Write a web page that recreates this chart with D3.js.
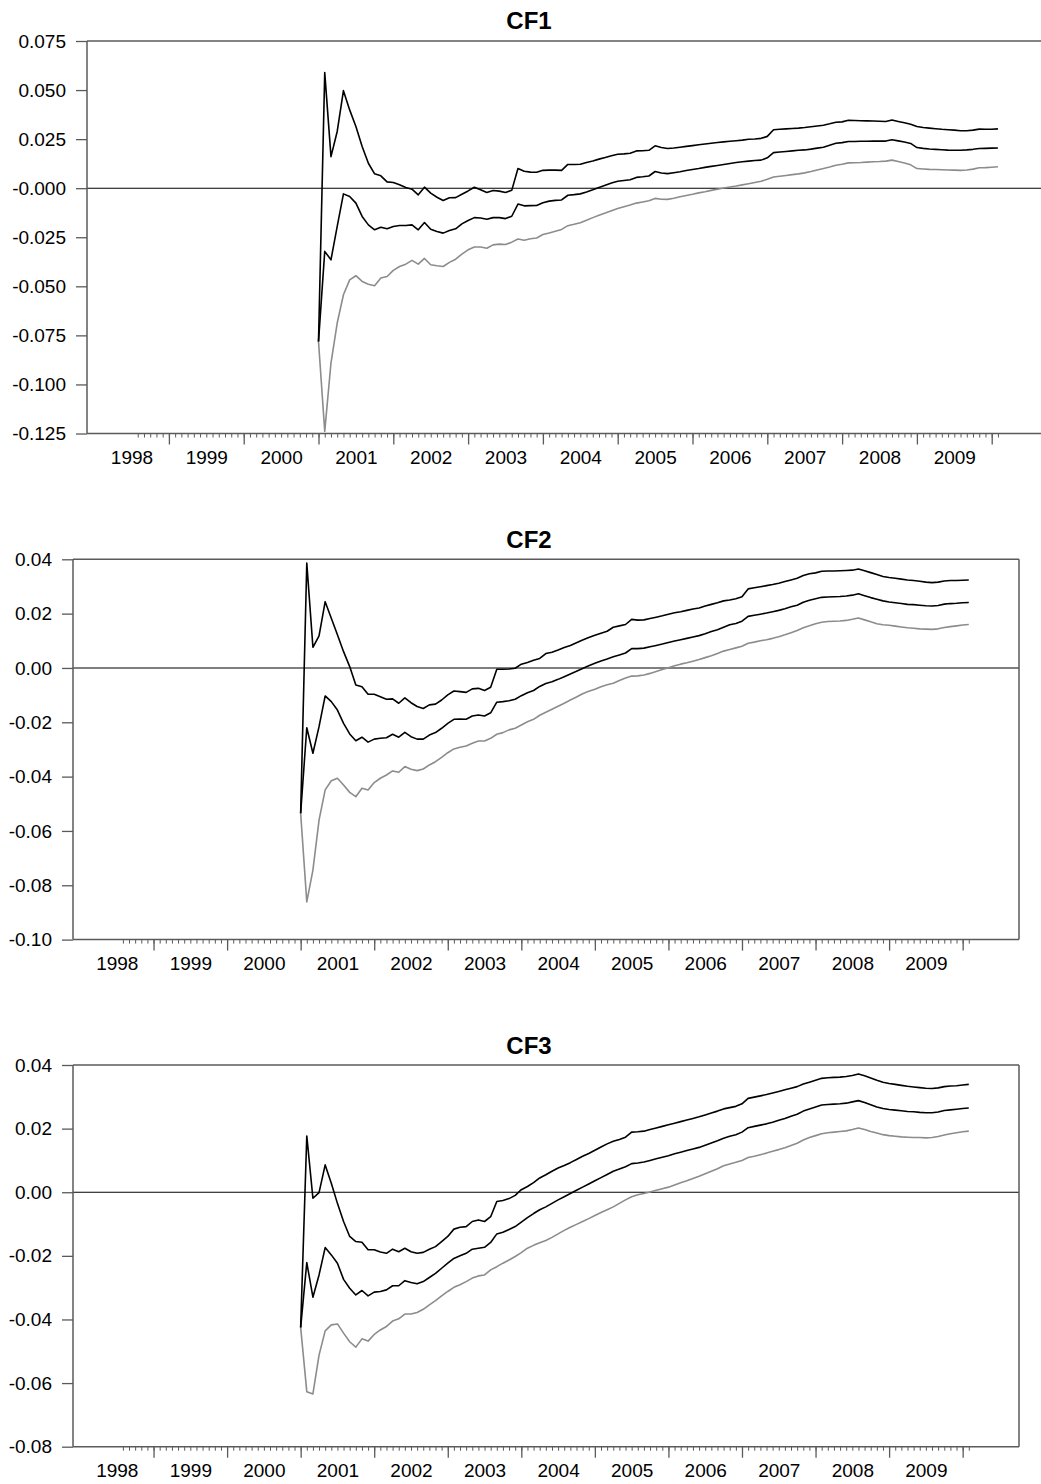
<!DOCTYPE html>
<html><head><meta charset="utf-8">
<script src="https://cdn.jsdelivr.net/npm/d3@7/dist/d3.min.js"></script>
<style>
body{margin:0;background:#fff}
svg{display:block}
text{font-family:"Liberation Sans",Arial,Helvetica,sans-serif;fill:#000}
</style>
</head><body>
<svg id="chart" width="1041" height="1484"></svg>
<script>
// Monthly observations starting 2001M01
const startYear = 2001;

const cf1Upper = [-0.0781,0.0589,0.0161,0.0289,0.0497,0.0399,0.0314,0.0212,0.0127,0.0073,
0.0063,0.0032,0.0029,0.0017,0.0003,-0.0005,-0.0034,0.0005,-0.0025,-0.0046,
-0.0063,-0.0049,-0.0048,-0.0031,-0.0014,0.0005,-0.0008,-0.0022,-0.0012,-0.0015,
-0.0022,-0.0011,0.0100,0.0086,0.0082,0.0081,0.0091,0.0092,0.0092,0.0091,
0.0121,0.0121,0.0122,0.0131,0.0139,0.0148,0.0156,0.0165,0.0173,0.0175,
0.0178,0.0190,0.0191,0.0193,0.0216,0.0207,0.0202,0.0205,0.0209,0.0213,
0.0217,0.0221,0.0225,0.0229,0.0233,0.0236,0.0239,0.0242,0.0245,0.0249,
0.0251,0.0254,0.0264,0.0298,0.0300,0.0302,0.0304,0.0306,0.0309,0.0313,
0.0317,0.0321,0.0328,0.0336,0.0338,0.0346,0.0345,0.0344,0.0343,0.0342,
0.0341,0.0340,0.0347,0.0340,0.0333,0.0326,0.0314,0.0309,0.0306,0.0303,
0.0300,0.0298,0.0296,0.0293,0.0293,0.0296,0.0301,0.0300,0.0300,0.0302];

const cf1Mid = [-0.0781,-0.0322,-0.0365,-0.0195,-0.0029,-0.0042,-0.0076,-0.0144,-0.0187,-0.0212,
-0.0199,-0.0207,-0.0195,-0.0190,-0.0190,-0.0187,-0.0212,-0.0175,-0.0209,-0.0221,
-0.0229,-0.0216,-0.0207,-0.0182,-0.0165,-0.0150,-0.0152,-0.0158,-0.0150,-0.0150,
-0.0155,-0.0143,-0.0081,-0.0090,-0.0089,-0.0088,-0.0074,-0.0066,-0.0062,-0.0060,
-0.0036,-0.0033,-0.0029,-0.0019,-0.0008,0.0004,0.0015,0.0026,0.0035,0.0039,
0.0043,0.0055,0.0058,0.0062,0.0085,0.0077,0.0074,0.0079,0.0084,0.0090,
0.0095,0.0100,0.0106,0.0111,0.0116,0.0121,0.0126,0.0131,0.0135,0.0138,
0.0141,0.0143,0.0155,0.0181,0.0184,0.0187,0.0190,0.0193,0.0195,0.0199,
0.0204,0.0209,0.0219,0.0229,0.0232,0.0238,0.0238,0.0239,0.0239,0.0240,
0.0240,0.0240,0.0247,0.0241,0.0235,0.0228,0.0207,0.0203,0.0200,0.0198,
0.0196,0.0194,0.0193,0.0193,0.0195,0.0198,0.0202,0.0203,0.0204,0.0205];

const cf1Lower = [-0.0781,-0.1239,-0.0891,-0.0687,-0.0543,-0.0467,-0.0446,-0.0475,-0.0489,-0.0497,
-0.0458,-0.0450,-0.0419,-0.0399,-0.0387,-0.0368,-0.0387,-0.0358,-0.0390,-0.0395,
-0.0399,-0.0378,-0.0362,-0.0336,-0.0314,-0.0300,-0.0300,-0.0306,-0.0289,-0.0285,
-0.0287,-0.0275,-0.0259,-0.0265,-0.0258,-0.0254,-0.0236,-0.0228,-0.0219,-0.0210,
-0.0191,-0.0184,-0.0176,-0.0163,-0.0150,-0.0138,-0.0127,-0.0115,-0.0104,-0.0095,
-0.0086,-0.0076,-0.0070,-0.0064,-0.0052,-0.0056,-0.0057,-0.0051,-0.0044,-0.0037,
-0.0031,-0.0024,-0.0018,-0.0011,-0.0005,0.0001,0.0006,0.0011,0.0017,0.0023,
0.0029,0.0035,0.0045,0.0057,0.0061,0.0065,0.0069,0.0073,0.0078,0.0085,
0.0093,0.0100,0.0108,0.0117,0.0122,0.0129,0.0130,0.0131,0.0133,0.0135,
0.0136,0.0138,0.0143,0.0136,0.0128,0.0119,0.0100,0.0098,0.0096,0.0095,
0.0094,0.0093,0.0092,0.0091,0.0093,0.0097,0.0104,0.0105,0.0107,0.0109];

const cf2Upper = [-0.0535,0.0386,0.0076,0.0118,0.0244,0.0183,0.0122,0.0060,0.0005,-0.0063,
-0.0069,-0.0097,-0.0097,-0.0106,-0.0115,-0.0114,-0.0130,-0.0110,-0.0128,-0.0142,
-0.0149,-0.0136,-0.0133,-0.0118,-0.0099,-0.0085,-0.0087,-0.0090,-0.0077,-0.0075,
-0.0083,-0.0071,-0.0005,-0.0005,-0.0004,-0.0001,0.0014,0.0020,0.0028,0.0035,
0.0053,0.0058,0.0066,0.0075,0.0083,0.0093,0.0103,0.0112,0.0120,0.0128,
0.0135,0.0150,0.0155,0.0160,0.0179,0.0176,0.0177,0.0182,0.0187,0.0192,
0.0198,0.0203,0.0207,0.0212,0.0217,0.0221,0.0228,0.0234,0.0240,0.0247,
0.0250,0.0255,0.0262,0.0291,0.0295,0.0299,0.0303,0.0307,0.0312,0.0318,
0.0324,0.0330,0.0340,0.0347,0.0350,0.0356,0.0357,0.0357,0.0358,0.0359,
0.0360,0.0364,0.0358,0.0351,0.0344,0.0337,0.0333,0.0330,0.0327,0.0324,
0.0322,0.0319,0.0316,0.0314,0.0316,0.0320,0.0322,0.0322,0.0323,0.0324];

const cf2Mid = [-0.0535,-0.0220,-0.0314,-0.0216,-0.0103,-0.0124,-0.0155,-0.0204,-0.0243,-0.0268,
-0.0255,-0.0273,-0.0262,-0.0259,-0.0257,-0.0244,-0.0255,-0.0237,-0.0253,-0.0262,
-0.0262,-0.0247,-0.0238,-0.0222,-0.0204,-0.0189,-0.0188,-0.0189,-0.0177,-0.0173,
-0.0177,-0.0165,-0.0126,-0.0124,-0.0121,-0.0115,-0.0102,-0.0091,-0.0083,-0.0068,
-0.0057,-0.0051,-0.0042,-0.0032,-0.0022,-0.0012,-0.0002,0.0008,0.0017,0.0026,
0.0033,0.0041,0.0048,0.0055,0.0071,0.0071,0.0073,0.0078,0.0083,0.0088,
0.0094,0.0099,0.0104,0.0109,0.0114,0.0119,0.0126,0.0134,0.0141,0.0150,
0.0159,0.0164,0.0172,0.0190,0.0194,0.0198,0.0202,0.0207,0.0212,0.0218,
0.0225,0.0231,0.0242,0.0249,0.0255,0.0260,0.0261,0.0262,0.0263,0.0265,
0.0268,0.0273,0.0266,0.0259,0.0253,0.0247,0.0243,0.0240,0.0237,0.0234,
0.0233,0.0231,0.0229,0.0228,0.0230,0.0235,0.0237,0.0238,0.0240,0.0241];

const cf2Lower = [-0.0535,-0.0861,-0.0744,-0.0560,-0.0449,-0.0415,-0.0406,-0.0431,-0.0458,-0.0474,
-0.0443,-0.0449,-0.0422,-0.0406,-0.0394,-0.0379,-0.0384,-0.0363,-0.0373,-0.0378,
-0.0372,-0.0357,-0.0345,-0.0329,-0.0312,-0.0298,-0.0292,-0.0287,-0.0277,-0.0269,
-0.0269,-0.0259,-0.0244,-0.0238,-0.0228,-0.0222,-0.0210,-0.0198,-0.0189,-0.0174,
-0.0163,-0.0152,-0.0141,-0.0130,-0.0118,-0.0107,-0.0095,-0.0086,-0.0078,-0.0069,
-0.0062,-0.0056,-0.0046,-0.0037,-0.0030,-0.0029,-0.0026,-0.0020,-0.0013,-0.0006,
0.0001,0.0008,0.0014,0.0019,0.0025,0.0031,0.0038,0.0045,0.0053,0.0062,
0.0068,0.0074,0.0080,0.0091,0.0095,0.0100,0.0104,0.0109,0.0115,0.0122,
0.0130,0.0138,0.0148,0.0155,0.0163,0.0168,0.0171,0.0172,0.0173,0.0175,
0.0179,0.0184,0.0177,0.0170,0.0163,0.0159,0.0157,0.0154,0.0151,0.0148,
0.0146,0.0144,0.0143,0.0142,0.0144,0.0149,0.0152,0.0155,0.0158,0.0160];

const cf3Upper = [-0.0425,0.0177,-0.0019,-0.0001,0.0086,0.0028,-0.0035,-0.0092,-0.0139,-0.0155,
-0.0157,-0.0181,-0.0181,-0.0188,-0.0192,-0.0179,-0.0187,-0.0176,-0.0187,-0.0192,
-0.0189,-0.0179,-0.0171,-0.0155,-0.0139,-0.0116,-0.0110,-0.0108,-0.0092,-0.0087,
-0.0092,-0.0077,-0.0029,-0.0026,-0.0020,-0.0010,0.0008,0.0018,0.0030,0.0045,
0.0055,0.0066,0.0076,0.0084,0.0093,0.0103,0.0113,0.0122,0.0132,0.0142,
0.0152,0.0160,0.0166,0.0173,0.0189,0.0190,0.0192,0.0197,0.0202,0.0207,
0.0212,0.0217,0.0222,0.0227,0.0232,0.0237,0.0243,0.0249,0.0255,0.0262,
0.0266,0.0270,0.0278,0.0295,0.0299,0.0303,0.0307,0.0312,0.0317,0.0322,
0.0327,0.0332,0.0340,0.0346,0.0352,0.0358,0.0360,0.0361,0.0362,0.0364,
0.0367,0.0372,0.0366,0.0359,0.0352,0.0346,0.0342,0.0339,0.0336,0.0333,
0.0331,0.0329,0.0327,0.0326,0.0328,0.0332,0.0334,0.0335,0.0337,0.0339];

const cf3Mid = [-0.0425,-0.0221,-0.0330,-0.0260,-0.0174,-0.0197,-0.0223,-0.0274,-0.0302,-0.0323,
-0.0309,-0.0326,-0.0314,-0.0312,-0.0307,-0.0294,-0.0294,-0.0278,-0.0284,-0.0288,
-0.0281,-0.0268,-0.0255,-0.0239,-0.0223,-0.0208,-0.0200,-0.0192,-0.0179,-0.0176,
-0.0173,-0.0158,-0.0131,-0.0126,-0.0117,-0.0108,-0.0094,-0.0080,-0.0067,-0.0055,
-0.0046,-0.0035,-0.0024,-0.0014,-0.0004,0.0006,0.0016,0.0026,0.0036,0.0046,
0.0056,0.0066,0.0073,0.0080,0.0090,0.0092,0.0095,0.0100,0.0105,0.0110,
0.0115,0.0121,0.0126,0.0131,0.0136,0.0141,0.0148,0.0155,0.0162,0.0170,
0.0176,0.0181,0.0189,0.0203,0.0207,0.0211,0.0215,0.0220,0.0226,0.0232,
0.0239,0.0245,0.0255,0.0262,0.0268,0.0274,0.0276,0.0277,0.0278,0.0280,
0.0284,0.0288,0.0282,0.0275,0.0268,0.0263,0.0260,0.0258,0.0256,0.0254,
0.0253,0.0251,0.0250,0.0250,0.0252,0.0257,0.0259,0.0261,0.0263,0.0265];

const cf3Lower = [-0.0425,-0.0627,-0.0634,-0.0512,-0.0436,-0.0417,-0.0414,-0.0443,-0.0470,-0.0487,
-0.0461,-0.0468,-0.0447,-0.0433,-0.0422,-0.0405,-0.0398,-0.0383,-0.0383,-0.0378,
-0.0368,-0.0354,-0.0341,-0.0326,-0.0312,-0.0299,-0.0291,-0.0281,-0.0270,-0.0263,
-0.0260,-0.0244,-0.0234,-0.0223,-0.0213,-0.0202,-0.0190,-0.0176,-0.0167,-0.0159,
-0.0152,-0.0142,-0.0131,-0.0120,-0.0110,-0.0101,-0.0092,-0.0083,-0.0073,-0.0064,
-0.0055,-0.0046,-0.0035,-0.0024,-0.0014,-0.0008,-0.0004,0.0001,0.0006,0.0011,
0.0016,0.0023,0.0030,0.0036,0.0043,0.0050,0.0058,0.0066,0.0074,0.0083,
0.0089,0.0094,0.0100,0.0109,0.0113,0.0118,0.0123,0.0129,0.0134,0.0140,
0.0147,0.0154,0.0164,0.0172,0.0178,0.0184,0.0187,0.0189,0.0191,0.0193,
0.0197,0.0202,0.0197,0.0191,0.0186,0.0181,0.0178,0.0176,0.0174,0.0173,
0.0172,0.0172,0.0171,0.0172,0.0175,0.0180,0.0184,0.0187,0.0190,0.0192];

const yearLabels = ["1998","1999","2000","2001","2002","2003","2004","2005","2006","2007","2008","2009"];
const majorTickYears = [1999,2000,2001,2002,2003,2004,2005,2006,2007,2008,2009,2010];

const cf1TickValues = [0.075,0.05,0.025,0,-0.025,-0.05,-0.075,-0.1,-0.125];
const cf1TickLabels = ["0.075","0.050","0.025","-0.000","-0.025","-0.050","-0.075","-0.100","-0.125"];
const cf2TickValues = [0.04,0.02,0,-0.02,-0.04,-0.06,-0.08,-0.10];
const cf2TickLabels = ["0.04","0.02","0.00","-0.02","-0.04","-0.06","-0.08","-0.10"];
const cf3TickValues = [0.04,0.02,0,-0.02,-0.04,-0.06,-0.08];
const cf3TickLabels = ["0.04","0.02","0.00","-0.02","-0.04","-0.06","-0.08"];

const titles = ["CF1","CF2","CF3"];

const panels = [
  {title:titles[0], upper:cf1Upper, mid:cf1Mid, lower:cf1Lower, ticks:cf1TickValues, labels:cf1TickLabels,
   left:87, right:1049, top:41, bottom:433.5, titleY:29},
  {title:titles[1], upper:cf2Upper, mid:cf2Mid, lower:cf2Lower, ticks:cf2TickValues, labels:cf2TickLabels,
   left:73, right:1019, top:559.3, bottom:939.6, titleY:548},
  {title:titles[2], upper:cf3Upper, mid:cf3Mid, lower:cf3Lower, ticks:cf3TickValues, labels:cf3TickLabels,
   left:73, right:1019, top:1065, bottom:1446.7, titleY:1054}
];

const svg = d3.select("#chart");
const xDomain = [1997.905, 2010.766];
const FONT = 19;
const frameColor = "#5a5a5a";

// monthly minor ticks 1998M08 .. 2010M02
const minorTicks = d3.range(7, 12*12 + 2).map(i => 1998 + i/12);

panels.forEach(p => {
  const x = d3.scaleLinear().domain(xDomain).range([p.left, p.right]);
  const y = d3.scaleLinear().domain([p.ticks[p.ticks.length-1], p.ticks[0]]).range([p.bottom, p.top]);
  const g = svg.append("g");

  // title
  g.append("text").attr("x", 529).attr("y", p.titleY).attr("text-anchor","middle")
    .style("font-size","24px").style("font-weight","bold").text(p.title);

  // zero line
  g.append("line").attr("x1", p.left).attr("x2", p.right)
    .attr("y1", y(0)).attr("y2", y(0)).attr("stroke","#000").attr("stroke-width",1.1);

  // y axis
  const yAxis = d3.axisLeft(y).tickValues(p.ticks)
    .tickFormat((d,i) => p.labels[i]).tickSize(11).tickPadding(10).tickSizeOuter(0);
  const ya = g.append("g").attr("transform", `translate(${p.left},0)`).call(yAxis);
  ya.select(".domain").remove();
  ya.selectAll(".tick line").attr("stroke", frameColor).attr("stroke-width",1.3);
  ya.selectAll(".tick text").style("font-size", FONT+"px").attr("fill","#000");

  // x axis minor ticks
  const xMinor = d3.axisBottom(x).tickValues(minorTicks).tickSize(4).tickFormat("").tickSizeOuter(0);
  const xm = g.append("g").attr("transform", `translate(0,${p.bottom})`).call(xMinor);
  xm.select(".domain").remove();
  xm.selectAll(".tick line").attr("stroke", frameColor).attr("stroke-width",1);
  // major ticks
  const xMajor = d3.axisBottom(x).tickValues(majorTickYears).tickSize(11).tickFormat("").tickSizeOuter(0);
  const xM = g.append("g").attr("transform", `translate(0,${p.bottom})`).call(xMajor);
  xM.select(".domain").remove();
  xM.selectAll(".tick line").attr("stroke", frameColor).attr("stroke-width",1.3);
  // year labels centred on each year
  const xLab = d3.axisBottom(x).tickValues(yearLabels.map(s => +s + 0.5))
    .tickFormat((d,i) => yearLabels[i]).tickSize(0).tickPadding(17).tickSizeOuter(0);
  const xl = g.append("g").attr("transform", `translate(0,${p.bottom})`).call(xLab);
  xl.select(".domain").remove();
  xl.selectAll(".tick text").style("font-size", FONT+"px").attr("fill","#000");

  // frame
  const fr = g.append("g").attr("stroke", frameColor).attr("stroke-width",1.5).attr("fill","none");
  fr.append("line").attr("x1",p.left).attr("x2",p.right).attr("y1",p.top).attr("y2",p.top);
  fr.append("line").attr("x1",p.left).attr("x2",p.right).attr("y1",p.bottom).attr("y2",p.bottom);
  fr.append("line").attr("x1",p.left).attr("x2",p.left).attr("y1",p.top).attr("y2",p.bottom);
  fr.append("line").attr("x1",p.right).attr("x2",p.right).attr("y1",p.top).attr("y2",p.bottom);

  const line = d3.line().x((d,i) => x(startYear + i/12)).y(d => y(d));
  g.append("path").datum(p.lower).attr("d", line).attr("fill","none")
    .attr("stroke","#8c8c8c").attr("stroke-width",1.6).attr("stroke-linejoin","round");
  g.append("path").datum(p.mid).attr("d", line).attr("fill","none")
    .attr("stroke","#000").attr("stroke-width",1.6).attr("stroke-linejoin","round");
  g.append("path").datum(p.upper).attr("d", line).attr("fill","none")
    .attr("stroke","#000").attr("stroke-width",1.6).attr("stroke-linejoin","round");
});
</script>
</body></html>
